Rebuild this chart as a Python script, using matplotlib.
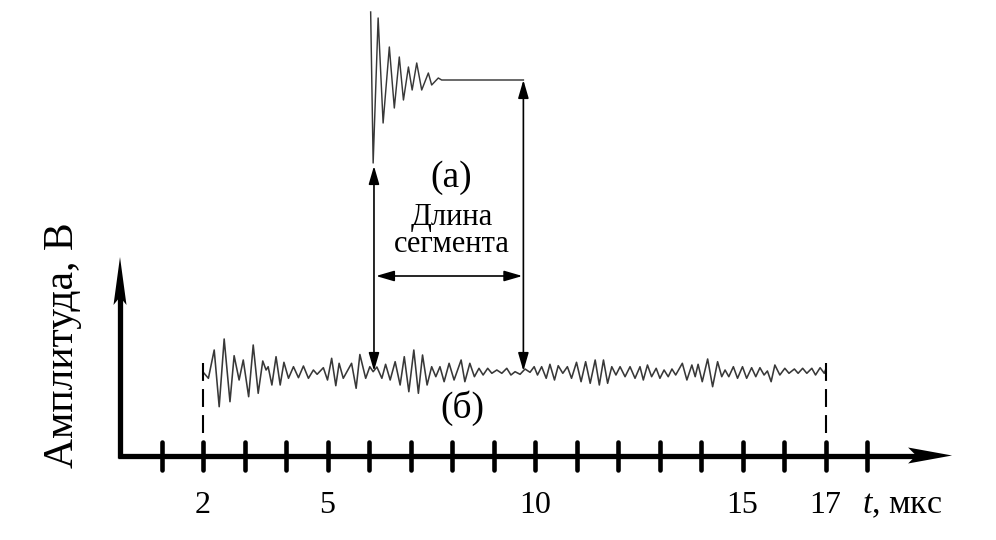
import matplotlib
matplotlib.use("Agg")
import matplotlib.pyplot as plt
from matplotlib.patches import Polygon

plt.rcParams['font.family'] = ['Liberation Serif', 'DejaVu Serif']
plt.rcParams['mathtext.fontset'] = 'custom'
plt.rcParams['mathtext.it'] = 'Liberation Serif:italic'
plt.rcParams['mathtext.rm'] = 'Liberation Serif'

# ---------------- data ----------------
# full signal (б): alternating extremes, time in µs, amplitude in arbitrary units
b_time = [2.00, 2.13, 2.27, 2.39, 2.51, 2.65, 2.75, 2.87, 2.97, 3.10, 3.21, 3.33,
          3.44, 3.52, 3.57, 3.66, 3.76, 3.86, 3.95, 4.06, 4.18, 4.30, 4.42, 4.54,
          4.66, 4.75, 4.90, 5.00, 5.10, 5.20, 5.28, 5.38, 5.58, 5.69, 5.78, 5.92,
          6.02, 6.10, 6.19, 6.31, 6.40, 6.51, 6.63, 6.75, 6.85, 6.96, 7.08, 7.19,
          7.29, 7.40, 7.51, 7.61, 7.71, 7.81, 7.93, 8.05, 8.22, 8.31, 8.43, 8.54,
          8.65, 8.75, 8.86, 8.96, 9.08, 9.20, 9.32, 9.42, 9.52, 9.64, 9.76, 9.88,
          9.98, 10.06, 10.16, 10.27, 10.36, 10.47, 10.56, 10.67, 10.78, 10.88, 11.00, 11.11,
          11.22, 11.33, 11.45, 11.55, 11.65, 11.75, 11.85, 11.95, 12.05, 12.17, 12.29, 12.41,
          12.53, 12.61, 12.71, 12.81, 12.92, 13.01, 13.11, 13.21, 13.30, 13.39, 13.55, 13.66,
          13.78, 13.86, 13.93, 14.03, 14.16, 14.28, 14.40, 14.50, 14.58, 14.67, 14.78, 14.88,
          15.00, 15.10, 15.22, 15.32, 15.42, 15.52, 15.60, 15.69, 15.78, 15.90, 16.02, 16.12,
          16.25, 16.34, 16.45, 16.55, 16.67, 16.76, 16.87, 16.97, 17.00]
b_amp = [-2, -8.3, 20, -36.7, 31, -31.7, 14.3, -10, 10, -26.7, 25, -23.3,
         9, 0, 3.3, -15, 13.3, -15, 7.7, -8.3, 3.3, -7.7, 4, -8.3,
         0, -4.3, 2.3, -10, 11.7, -15.7, 6.7, -8.3, 6.7, -18.3, 15.5, -8.3,
         3.3, -1.7, 3, -8.3, 5.7, -10, 8.3, -15, 13.3, -21.7, 20, -23.3,
         15, -15, 3.3, -6.7, 3.3, -11.7, 6.7, -10, 10, -11.7, 6.7, -6.7,
         1.7, -5, 1.7, -3.3, 0, -3.3, 1.7, -5, -1.7, -4.3, 1, -2.3,
         3.3, -5, 3.3, -8.3, 5.7, -10, 4.3, -3.3, 3.3, -8.3, 7.7, -11.7,
         8.3, -13.3, 10, -15, 10, -13.3, 3.3, -5, 3.3, -6.7, 3.3, -8.3,
         3.3, -10, 5, -6.7, 1.7, -8.3, 0, -6.7, 1, -5, 6.7, -10,
         5, -6.7, 5.7, -11.7, 11, -16.7, 8.3, -6.7, 0, -6.7, 3.3, -8.3,
         3.3, -8.3, 2.3, -6.7, 2.3, -5, -1, -11.7, 5, -5, 1.7, -3.3,
         1, -3.3, 1.7, -3.3, 1.7, -5, 2.3, -3.3, 0]

# segment (а)
a_time = [6.04, 6.10, 6.22, 6.34, 6.49, 6.61, 6.73, 6.83, 6.95, 7.04, 7.15, 7.27,
          7.43, 7.51, 7.67, 7.75, 9.72]
a_amp = [68, -83, 62, -43, 33, -28, 23, -20, 13, -10, 17, -10,
         7, -5, 2, 0, 0]

tick_positions = list(range(1, 19))
tick_labels_pos = [2, 5, 10, 15, 17]
tick_labels = ['2', '5', '10', '15', '17']
signal_start, signal_end = 2, 17
seg_start, seg_end = 6.12, 9.72

# ---------------- layout ----------------
W, H = 996, 540
PX = 41.5          # pixels per µs
X0 = 120           # pixel of t=0
Y0 = 455.5         # pixel of baseline

fig = plt.figure(figsize=(W / 100, H / 100), dpi=100)
ax = fig.add_axes([0, 0, 1, 1])
ax.set_xlim(-X0 / PX, (W - X0) / PX)
ax.set_ylim(Y0 - H, Y0)
ax.set_axis_off()

def dx(p):
    return p / PX

b_off = 85.5
a_off = 375.5

wave_col = '#383838'
ax.plot(b_time, [v + b_off for v in b_amp], color=wave_col, lw=1.15,
        solid_joinstyle='round')
ax.plot(a_time, [v + a_off for v in a_amp], color=wave_col, lw=1.05,
        solid_joinstyle='round')

# axes
x_tip = 20.05
y_tip = 198.5
ax.plot([dx(-2.5), x_tip - dx(30)], [0, 0], color='black', lw=3.8,
        solid_capstyle='butt')
ax.plot([0, 0], [-2.5, y_tip - 35], color='black', lw=3.8,
        solid_capstyle='butt')
ax.add_patch(Polygon([(x_tip, 0), (x_tip - dx(44), 8), (x_tip - dx(36), 0),
                      (x_tip - dx(44), -8)], closed=True, color='black', lw=0))
ax.add_patch(Polygon([(0, y_tip), (dx(-6.5), y_tip - 48), (0, y_tip - 40),
                      (dx(6.5), y_tip - 48)], closed=True, color='black', lw=0))

# ticks
tl = ax.vlines(tick_positions, -14.5, 13.5, color='black', lw=3.3)
tl.set_capstyle('round')

# dashed limits of signal
for t in (signal_start, signal_end):
    ax.plot([t, t], [93, 0], color='black', lw=1.5, dashes=(8.6, 3.9))

# tick labels
for t, s in zip(tick_labels_pos, tick_labels):
    ax.text(t, -57.5, s, ha='center', va='baseline', fontsize=23)
ax.text(dx(862 - X0), -57.5, '$t$, мкс', ha='left', va='baseline', fontsize=24.5)

# y label
ax.text(dx(63 - X0), 110.5, 'Амплитуда, В', rotation=90, ha='center',
        va='center', fontsize=30)

# arrows
ap = dict(arrowstyle='<|-|>,head_length=1.1,head_width=0.32', mutation_scale=10,
          lw=1.2, color='black', shrinkA=0, shrinkB=0)
ax.annotate('', xy=(seg_start, 289.5), xytext=(seg_start, 84.5), arrowprops=ap)
ax.annotate('', xy=(seg_end, a_off), xytext=(seg_end, 84.5), arrowprops=ap)
ax.annotate('', xy=(seg_start + dx(2), 179.5), xytext=(seg_end - dx(1), 179.5),
            arrowprops=ap)

# texts
ax.text(dx(451 - X0), 277.5, '(а)', ha='center', va='center', fontsize=27)
ax.text(dx(462 - X0), 47.5, '(б)', ha='center', va='center', fontsize=27)
ax.text(dx(452 - X0), 203.5, 'Длина\nсегмента', ha='center', va='baseline',
        multialignment='center', fontsize=22, linespacing=0.92)

fig.savefig('out.png', dpi=100)
